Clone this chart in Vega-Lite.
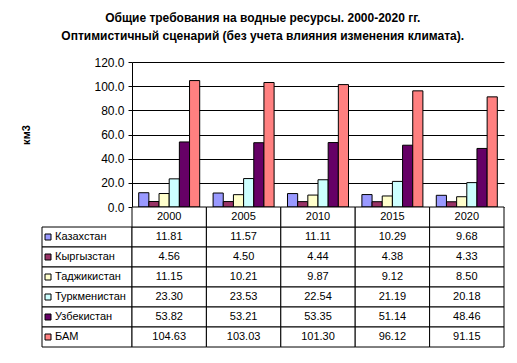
{
  "$schema": "https://vega.github.io/schema/vega-lite/v6.json",
  "padding": {"left": 20, "top": 12, "right": 5, "bottom": 5},
  "background": "white",
  "title": {
    "text": ["Общие требования на водные ресурсы. 2000-2020 гг.", "Оптимистичный сценарий (без учета влияния изменения климата)."],
    "font": "Liberation Sans", "fontSize": 12, "fontWeight": "bold", "lineHeight": 18,
    "anchor": "middle", "offset": 13, "color": "black"
  },
  "data": {"values": [
    {"series": "Казахстан", "year": 2000, "value": 11.81},
    {"series": "Казахстан", "year": 2005, "value": 11.57},
    {"series": "Казахстан", "year": 2010, "value": 11.11},
    {"series": "Казахстан", "year": 2015, "value": 10.29},
    {"series": "Казахстан", "year": 2020, "value": 9.68},
    {"series": "Кыргызстан", "year": 2000, "value": 4.56},
    {"series": "Кыргызстан", "year": 2005, "value": 4.50},
    {"series": "Кыргызстан", "year": 2010, "value": 4.44},
    {"series": "Кыргызстан", "year": 2015, "value": 4.38},
    {"series": "Кыргызстан", "year": 2020, "value": 4.33},
    {"series": "Таджикистан", "year": 2000, "value": 11.15},
    {"series": "Таджикистан", "year": 2005, "value": 10.21},
    {"series": "Таджикистан", "year": 2010, "value": 9.87},
    {"series": "Таджикистан", "year": 2015, "value": 9.12},
    {"series": "Таджикистан", "year": 2020, "value": 8.50},
    {"series": "Туркменистан", "year": 2000, "value": 23.30},
    {"series": "Туркменистан", "year": 2005, "value": 23.53},
    {"series": "Туркменистан", "year": 2010, "value": 22.54},
    {"series": "Туркменистан", "year": 2015, "value": 21.19},
    {"series": "Туркменистан", "year": 2020, "value": 20.18},
    {"series": "Узбекистан", "year": 2000, "value": 53.82},
    {"series": "Узбекистан", "year": 2005, "value": 53.21},
    {"series": "Узбекистан", "year": 2010, "value": 53.35},
    {"series": "Узбекистан", "year": 2015, "value": 51.14},
    {"series": "Узбекистан", "year": 2020, "value": 48.46},
    {"series": "БАМ", "year": 2000, "value": 104.63},
    {"series": "БАМ", "year": 2005, "value": 103.03},
    {"series": "БАМ", "year": 2010, "value": 101.30},
    {"series": "БАМ", "year": 2015, "value": 96.12},
    {"series": "БАМ", "year": 2020, "value": 91.15}
  ]},
  "columns": 2,
  "spacing": 0,
  "bounds": "flush",
  "concat": [
    {
      "width": 90, "height": 145,
      "transform": [{"filter": "datum.year == 2000 && datum.series == 'БАМ'"}],
      "mark": {"type": "text"},
      "encoding": {"text": {"value": ""}}
    },
    {
      "width": 372, "height": 145,
      "mark": {"type": "bar", "stroke": "black", "strokeWidth": 1},
      "encoding": {
        "x": {"field": "year", "type": "ordinal", "axis": null, "scale": {"paddingInner": 0.18, "paddingOuter": 0.09}},
        "xOffset": {"field": "series", "type": "nominal", "sort": ["Казахстан", "Кыргызстан", "Таджикистан", "Туркменистан", "Узбекистан", "БАМ"], "scale": {"paddingInner": 0, "paddingOuter": 0}},
        "y": {
          "field": "value", "type": "quantitative",
          "scale": {"domain": [0, 120], "nice": false},
          "axis": {
            "title": "км3", "titleFont": "Liberation Sans", "titleFontSize": 11, "titleFontWeight": "bold", "titleColor": "black", "titlePadding": 62,
            "values": [0, 20, 40, 60, 80, 100, 120], "format": ".1f",
            "labelFont": "Liberation Sans", "labelFontSize": 12, "labelColor": "black", "labelPadding": 4,
            "tickSize": 4, "tickColor": "black", "domainColor": "black",
            "grid": true, "gridColor": "black", "gridOpacity": 1
          }
        },
        "color": {
          "field": "series", "type": "nominal",
          "scale": {"domain": ["Казахстан", "Кыргызстан", "Таджикистан", "Туркменистан", "Узбекистан", "БАМ"],
                    "range": ["#9999FF", "#993366", "#FFFFCC", "#CCFFFF", "#660066", "#FF8080"]},
          "legend": null
        }
      }
    },
    {
      "width": 90, "height": 140,
      "transform": [{"filter": "datum.year == 2000"}],
      "encoding": {
        "y": {"field": "series", "type": "nominal", "axis": null,
              "scale": {"domain": ["hdr", "Казахстан", "Кыргызстан", "Таджикистан", "Туркменистан", "Узбекистан", "БАМ"], "paddingInner": 0, "paddingOuter": 0}},
        "x": {"datum": "lab", "type": "nominal", "axis": null, "scale": {"paddingInner": 0, "paddingOuter": 0}}
      },
      "layer": [
        {"mark": {"type": "rect", "fill": "white", "stroke": "black", "strokeWidth": 1}},
        {"mark": {"type": "point", "shape": "square", "filled": true, "stroke": "black", "strokeWidth": 1, "size": 36, "xOffset": -39, "opacity": 1},
         "encoding": {"color": {"field": "series", "type": "nominal",
            "scale": {"domain": ["Казахстан", "Кыргызстан", "Таджикистан", "Туркменистан", "Узбекистан", "БАМ"],
                      "range": ["#9999FF", "#993366", "#FFFFCC", "#CCFFFF", "#660066", "#FF8080"]}, "legend": null}}},
        {"mark": {"type": "text", "align": "left", "dx": -32, "font": "Liberation Sans", "fontSize": 11, "color": "black"},
         "encoding": {"text": {"field": "series"}}}
      ]
    },
    {
      "width": 372, "height": 140,
      "encoding": {
        "x": {"field": "year", "type": "ordinal", "axis": null, "scale": {"paddingInner": 0, "paddingOuter": 0}}
      },
      "layer": [
        {"mark": {"type": "rect", "fill": "white", "stroke": "black", "strokeWidth": 1},
         "encoding": {"y": {"field": "series", "type": "nominal", "axis": null,
            "scale": {"domain": ["hdr", "Казахстан", "Кыргызстан", "Таджикистан", "Туркменистан", "Узбекистан", "БАМ"], "paddingInner": 0, "paddingOuter": 0}}}},
        {"transform": [{"filter": "datum.series == 'Казахстан'"}],
         "mark": {"type": "rect", "fill": "white", "stroke": "black", "strokeWidth": 1},
         "encoding": {"y": {"datum": "hdr", "type": "nominal"}}},
        {"mark": {"type": "text", "font": "Liberation Sans", "fontSize": 11, "color": "black"},
         "encoding": {"y": {"field": "series", "type": "nominal"}, "text": {"field": "value", "type": "quantitative", "format": ".2f"}}},
        {"transform": [{"filter": "datum.series == 'Казахстан'"}],
         "mark": {"type": "text", "font": "Liberation Sans", "fontSize": 11, "color": "black"},
         "encoding": {"y": {"datum": "hdr", "type": "nominal"}, "text": {"field": "year", "type": "ordinal"}}}
      ]
    }
  ],
  "config": {"view": {"stroke": null}, "font": "Liberation Sans"}
}
